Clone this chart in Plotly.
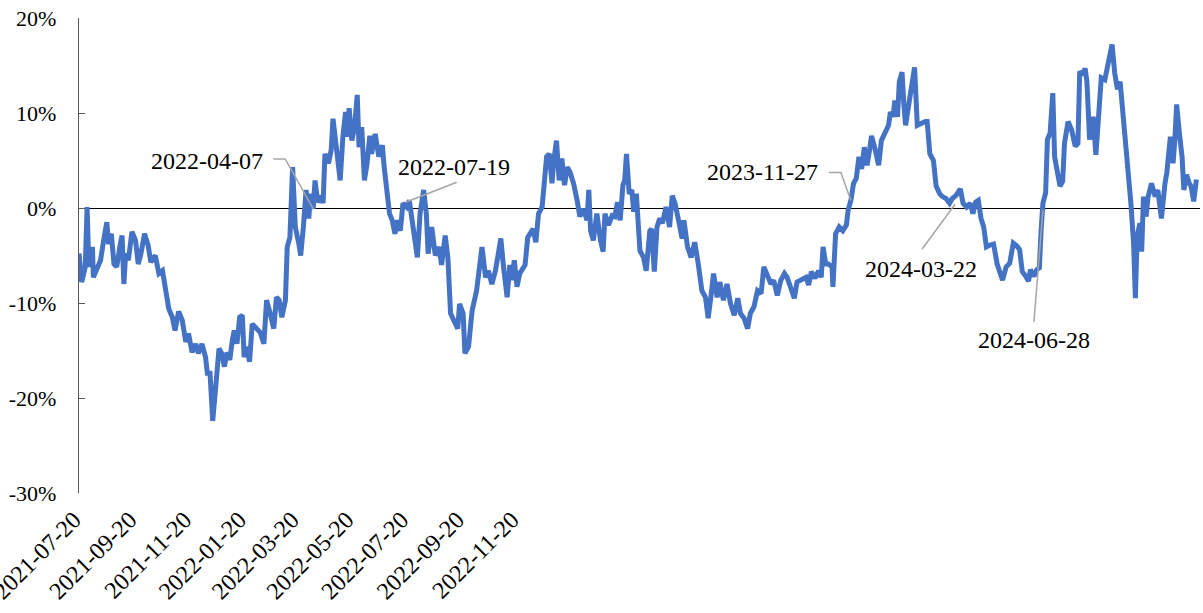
import pandas as pd
import plotly.graph_objects as go

# ---------------- data ----------------
start_date = "2021-07-20"
end_date = "2024-12-20"

day_offsets = [
    0, 3, 7, 9, 11, 15, 16, 20, 24, 28, 31, 33, 36, 39, 42, 46, 48, 50, 52, 55,
    59, 63, 66, 69, 73, 77, 80, 85, 89, 93, 96, 100, 104, 107, 111, 115, 119, 122, 126, 130,
    133, 137, 141, 143, 146, 149, 152, 156, 159, 162, 165, 168, 171, 173, 176, 179, 182, 184, 187, 190,
    193, 196, 202, 206, 209, 213, 217, 220, 223, 226, 230, 232, 235, 238, 241, 245, 247, 250, 253, 256,
    258, 261, 263, 266, 270, 272, 274, 278, 281, 283, 286, 288, 291, 294, 297, 299, 301, 304, 307, 310,
    312, 315, 318, 321, 324, 326, 330, 334, 338, 340, 343, 346, 349, 352, 355, 358, 361, 365, 368, 371,
    374, 377, 380, 384, 387, 389, 393, 397, 401, 404, 408, 411, 414, 418, 422, 424, 428, 430, 434, 438,
    443, 449, 453, 456, 460, 464, 467, 470, 473, 477, 480, 482, 485, 488, 491, 493, 497, 500, 503, 506,
    509, 512, 516, 518, 521, 524, 527, 529, 532, 535, 538, 541, 544, 547, 551, 555, 558, 562, 566, 568,
    570, 573, 577, 581, 584, 586, 590, 594, 597, 600, 603, 606, 608, 610, 613, 616, 618, 621, 625, 629,
    632, 636, 638, 641, 644, 647, 650, 654, 658, 661, 664, 668, 672, 674, 678, 682, 686, 690, 694, 698,
    701, 704, 707, 711, 714, 718, 722, 726, 730, 734, 737, 741, 745, 748, 752, 756, 760, 763, 767, 771,
    774, 778, 782, 786, 789, 793, 797, 800, 805, 810, 813, 816, 820, 824, 827, 829, 832, 835, 839, 840,
    843, 847, 851, 855, 857, 860, 863, 866, 869, 872, 875, 878, 881, 883, 887, 891, 894, 898, 902, 904,
    907, 909, 912, 914, 917, 919, 921, 924, 928, 931, 934, 938, 943, 945, 948, 952, 955, 959, 962, 966,
    970, 973, 977, 982, 985, 989, 993, 996, 999, 1002, 1005, 1008, 1011, 1015, 1019, 1023, 1026, 1029, 1033, 1037,
    1041, 1045, 1048, 1051, 1055, 1058, 1060, 1064, 1067, 1070, 1072, 1074, 1077, 1079, 1082, 1085, 1087, 1090, 1093, 1096,
    1098, 1102, 1106, 1110, 1113, 1115, 1118, 1121, 1123, 1126, 1130, 1133, 1136, 1139, 1143, 1147, 1151, 1154, 1157, 1160,
    1164, 1168, 1172, 1175, 1177, 1179, 1182, 1184, 1186, 1189, 1191, 1195, 1199, 1202, 1206, 1210, 1212, 1216, 1219, 1221,
    1223, 1226, 1229, 1231, 1234, 1237, 1239, 1242, 1245,
]

values_pct = [
    -4.8, -7.8, -6.2, 0.1, -6.2, -4.1, -7.3, -6.2, -5.5, -3.1, -1.5, -3.8, -2.7, -5.9, -6.2, -3.8, -2.9, -8.0, -4.8, -5.5,
    -2.5, -3.4, -5.9, -4.8, -2.7, -3.9, -5.7, -5.0, -6.9, -6.6, -8.3, -10.6, -11.5, -12.9, -10.9, -11.8, -14.1, -13.2, -15.2, -14.3,
    -15.3, -14.3, -15.7, -17.4, -17.4, -22.4, -19.2, -14.8, -15.3, -16.7, -15.2, -16.0, -13.8, -12.9, -14.3, -11.5, -11.3, -15.7, -14.6, -16.2,
    -12.2, -12.5, -13.1, -14.3, -9.7, -11.1, -12.7, -9.4, -9.7, -11.5, -9.7, -4.1, -3.1, 4.3, -2.0, -3.8, -5.0, -2.0, 1.9, -1.1,
    1.5, -0.1, 2.9, 0.6, 1.3, 0.5, 5.7, 4.7, 6.1, 9.4, 6.8, 4.3, 2.9, 7.5, 10.1, 7.5, 10.5, 7.1, 8.5, 11.9,
    6.4, 8.5, 2.9, 4.7, 7.6, 5.7, 7.8, 5.4, 6.6, 4.3, 1.3, -0.6, -1.3, -2.7, -1.3, -2.4, 0.5, 0.1, 0.8, -1.3,
    -3.4, -5.2, -0.6, 1.9, -0.6, -4.8, -2.0, -5.0, -4.1, -6.0, -2.9, -5.2, -11.1, -11.8, -12.7, -10.1, -11.1, -15.3, -14.6, -10.8,
    -8.7, -4.1, -7.3, -6.6, -8.0, -6.6, -5.2, -3.2, -6.2, -9.4, -6.0, -7.6, -5.5, -8.3, -6.9, -6.6, -6.0, -3.1, -2.7, -2.2,
    -3.6, -0.6, 0.1, 2.9, 5.4, 5.7, 2.6, 5.0, 7.1, 2.9, 5.2, 2.4, 4.3, 3.8, 2.6, 0.8, -0.9, -0.1, -1.3, 1.9,
    -2.4, -3.4, -0.6, -3.4, -4.6, -0.6, -1.8, -0.8, -0.9, 0.6, -1.3, 2.4, 2.9, 5.7, 1.5, 1.9, -0.4, 1.5, -4.5, -5.2,
    -6.6, -2.4, -2.2, -6.7, -2.0, -1.1, -1.6, 0.1, -2.0, 1.3, 0.5, -1.3, -3.2, -1.3, -4.1, -5.2, -3.6, -5.9, -8.7, -9.4,
    -11.6, -9.4, -6.9, -9.4, -7.8, -9.7, -8.0, -10.1, -11.3, -9.5, -11.1, -11.6, -12.7, -11.1, -10.4, -8.7, -9.0, -6.2, -7.1, -8.0,
    -7.6, -9.2, -7.6, -6.9, -7.3, -8.3, -9.5, -7.8, -7.6, -7.3, -8.1, -6.7, -7.4, -6.6, -7.3, -4.1, -5.9, -5.9, -6.2, -8.3,
    -2.7, -2.0, -2.4, -1.8, -0.2, 0.8, 2.6, 3.1, 5.4, 4.1, 6.4, 4.5, 6.2, 7.6, 6.2, 4.5, 7.1, 7.8, 8.7, 10.1,
    9.6, 11.3, 9.6, 13.3, 14.3, 11.0, 8.7, 10.6, 13.1, 14.8, 8.7, 8.9, 9.1, 9.1, 5.7, 5.0, 2.3, 1.5, 1.2, 1.0,
    0.5, 1.0, 1.3, 2.0, 0.5, 0.1, 0.5, -0.6, 0.6, 0.8, -1.1, -2.0, -4.1, -3.9, -3.8, -5.9, -6.6, -7.6, -6.2, -5.8,
    -3.7, -4.0, -4.4, -6.7, -7.2, -7.7, -6.5, -7.2, -6.5, -6.3, -2.3, 0.5, 1.6, 7.2, 7.9, 12.1, 5.4, 4.0, 2.3, 2.8,
    6.8, 9.1, 8.2, 6.5, 6.8, 14.4, 14.0, 14.7, 13.3, 7.2, 9.6, 5.6, 9.5, 13.7, 13.5, 15.3, 17.2, 14.2, 12.5, 13.3,
    9.3, 4.7, 0.5, -3.7, -9.5, -3.0, -1.6, -4.6, 1.2, -0.9, 1.1, 2.6, 1.2, 1.9, -1.1, 2.6, 3.7, 7.5, 4.7, 7.2,
    10.9, 7.9, 5.4, 1.9, 3.5, 2.6, 2.3, 0.7, 3.0,
]

tick_dates = ["2021-07-20", "2021-09-20", "2021-11-20", "2022-01-20", "2022-03-20",
              "2022-05-20", "2022-07-20", "2022-09-20", "2022-11-20"]
y_ticks = [-30, -20, -10, 0, 10, 20]
y_tick_labels = ["-30%", "-20%", "-10%", "0%", "10%", "20%"]
callout_dates = ["2022-04-07", "2022-07-19", "2023-11-27", "2024-03-22", "2024-06-28"]
callout_values = [-0.1, 0.6, 0.8, 0.4, -0.2]

n = min(len(day_offsets), len(values_pct))
day_offsets = day_offsets[:n]
values_pct = values_pct[:n]

dates = pd.Timestamp(start_date) + pd.to_timedelta(day_offsets, unit="D")

# ---------------- style ----------------
FONT = "Liberation Serif"
LINE_BLUE = "#4472C4"
LEADER = "#A6A6A6"
AXIS_GREY = "#595959"

# leader-line polylines (pixels, relative to anchor, y up) and label offsets
callout_style = [
    dict(path=[(0, 0), (-28, 50), (-40, 50)], shift=(-106, 48)),
    dict(path=[(0, 0), (51, 20)], shift=(48, 35)),
    dict(path=[(0, 0), (-10, 28), (-22, 28)], shift=(-88, 28)),
    dict(path=[(0, 0), (-33, -45)], shift=(-34, -65)),
    dict(path=[(0, 0), (-9, -112)], shift=(-9, -130)),
]

fig = go.Figure()
fig.add_trace(go.Scatter(
    x=dates, y=values_pct, mode="lines",
    line=dict(color=LINE_BLUE, width=5),
    hoverinfo="x+y", showlegend=False,
))

shapes = []
annotations = []
for d, yv, st in zip(callout_dates, callout_values, callout_style):
    ts = pd.Timestamp(d)
    path = "M" + " L".join(f"{px},{py}" for px, py in st["path"])
    shapes.append(dict(
        type="path", xref="x", yref="y",
        xsizemode="pixel", ysizemode="pixel",
        xanchor=ts, yanchor=yv, path=path,
        line=dict(color=LEADER, width=1.5), layer="above",
    ))
    annotations.append(dict(
        x=ts, y=yv, xref="x", yref="y", text=d, showarrow=False,
        xshift=st["shift"][0], yshift=st["shift"][1],
        xanchor="center", yanchor="middle",
        font=dict(family=FONT, size=24, color="black"),
    ))

fig.update_layout(
    width=1203, height=613,
    margin=dict(l=79, r=3, t=18, b=120, autoexpand=False),
    paper_bgcolor="white", plot_bgcolor="white",
    font=dict(family=FONT, size=22, color="black"),
    shapes=shapes, annotations=annotations,
    showlegend=False,
)
fig.update_xaxes(
    type="date", range=[start_date, end_date],
    tickmode="array", tickvals=tick_dates, ticktext=tick_dates,
    tickangle=-45, showgrid=False, zeroline=False, showline=False,
    ticks="", ticklabelshift=-5, ticklabelstandoff=7,
    ticklabeloverflow="allow",
    tickfont=dict(family=FONT, size=24, color="black"),
    automargin=False,
)
fig.update_yaxes(
    range=[-30, 20], tickmode="array", tickvals=y_ticks, ticktext=y_tick_labels,
    showgrid=False, zeroline=True, zerolinecolor="black", zerolinewidth=1,
    showline=True, linecolor=AXIS_GREY, linewidth=1.3,
    ticks="inside", ticklen=6, tickwidth=1.3, tickcolor=AXIS_GREY,
    ticklabelstandoff=17, ticklabeloverflow="allow",
    tickfont=dict(family=FONT, size=22, color="black"),
    automargin=False,
)

fig.write_html(
    "out.html",
    config={"displayModeBar": False},
    post_script="document.body.style.margin='0';document.body.style.overflow='hidden';",
)
